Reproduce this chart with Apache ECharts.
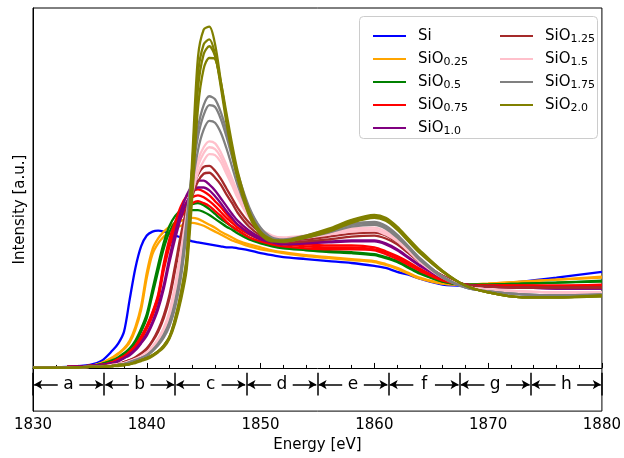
<!DOCTYPE html>
<html>
<head>
<meta charset="utf-8">
<script src="https://cdn.jsdelivr.net/npm/echarts@6/dist/echarts.min.js"></script>
<style>
html, body { margin: 0; padding: 0; background: #fff; }
#chart { width: 624px; height: 458px; }
</style>
</head>
<body>
<div id="chart"></div>
<script>
// energy grid [eV], shared by all spectra
var energy = [1830,1833,1835,1836,1837,1837.5,1838,1838.5,1839,1839.5,1840,1840.5,1841,1841.5,1842,1842.5,1843,1843.5,1844,1844.5,1845,1845.5,1846,1846.5,1847,1847.5,1848,1849,1850,1851,1852,1854,1856,1858,1860,1861,1862,1863,1864,1866,1868,1870,1873,1876,1880];

// intensity (a.u.), several runs per sample
var si = [
  [0,1,3,7,18,25,37,70,102,124,135,139,140,139,137,135,133,131,129,128,127,126,125,124,123,123,122,120,117,115,113,111,109,107,104,102,98,95,91,85,84,85,88,92,98]
];
var sio025 = [
  [0,1,2,5,11,15,20,28,42,63,97,121,132,139,144,148,150,152,153,152,149,146,143,139,136,133,130,126,123,120,118,115,113,111,109,106,102,97,92,86,85,86,88,90,93],
  [0,1,2,5,10,14,19,26,39,59,92,116,127,134,139,143,145,147,148,147,145,142,139,136,133,130,128,124,121,119,117,114,112,110,108,105,101,96,91,86,85,86,88,90,92]
];
var sio05 = [
  [0,1,2,4,8,11,15,20,28,40,55,80,105,128,145,155,161,165,167,168,166,162,157,152,148,144,140,133,128,125,123,121,119,118,116,113,109,103,97,88,85,85,86,87,89],
  [0,1,2,4,7,10,14,19,26,37,51,75,99,122,139,149,155,159,161,161,159,156,152,148,144,141,137,131,127,124,122,120,118,117,115,112,108,102,96,88,85,85,86,87,88]
];
var sio075 = [
  [0,1,2,3,6,9,12,17,23,32,43,57,75,107,132,149,165,175,180,182,180,176,170,164,157,151,146,138,133,130,128,126,125,125,123,119,114,108,101,90,85,84,84,84,85],
  [0,1,2,3,6,9,12,16,22,31,42,56,73,104,128,144,159,169,174,176,174,170,165,159,153,148,143,136,131,128,126,124,123,123,121,118,113,107,100,90,85,84,84,84,84],
  [0,1,2,3,5,8,11,15,21,29,40,53,70,100,124,139,153,163,168,170,168,165,160,155,149,144,140,133,129,126,124,122,121,121,120,116,111,105,99,89,85,84,84,83,83]
];
var sio10 = [
  [0,1,2,3,5,7,10,14,19,26,35,47,63,85,113,138,160,176,186,191,191,187,181,173,165,157,150,140,133,129,127,128,129,130,130,127,121,113,105,92,85,83,82,81,81],
  [0,1,2,3,5,7,10,13,18,25,33,45,60,81,108,132,153,169,179,184,184,181,175,168,160,153,146,137,131,128,126,127,128,129,129,126,120,112,104,92,85,83,82,81,81]
];
var sio125 = [
  [0,0,1,2,3,4,6,8,11,15,20,28,39,54,75,105,136,162,183,197,205,206,201,193,183,173,163,148,138,132,130,131,134,137,138,135,128,119,109,94,85,83,82,82,82],
  [0,0,1,2,3,4,6,8,10,14,19,27,37,51,71,100,130,155,175,190,198,199,194,187,177,168,158,144,135,130,128,129,131,134,135,132,126,117,108,94,85,83,82,82,82]
];
var sio15 = [
  [0,0,1,1,3,4,5,7,9,12,16,22,30,41,58,85,120,157,190,212,225,231,229,220,207,193,179,157,142,135,133,135,138,142,143,139,131,121,110,93,83,80,78,77,77],
  [0,0,1,1,3,4,5,7,9,12,16,21,29,40,56,82,116,152,184,206,219,225,223,215,202,189,176,155,140,134,132,134,137,140,141,137,130,120,109,93,83,80,78,77,77],
  [0,0,1,1,2,3,4,6,8,11,15,20,28,38,54,79,112,147,178,199,211,218,217,210,198,186,173,153,139,133,131,133,136,139,140,136,129,119,108,92,83,80,78,77,76]
];
var sio175 = [
  [0,0,1,1,2,3,4,6,8,10,13,18,25,34,47,68,100,150,205,245,268,277,274,261,242,220,198,164,143,133,131,135,141,147,149,145,136,124,112,93,82,78,75,74,75],
  [0,0,1,1,2,3,4,6,8,10,13,18,24,33,46,66,97,145,198,236,258,268,266,254,236,215,194,162,142,132,130,134,140,146,148,144,135,123,111,93,82,78,75,74,75],
  [0,0,1,1,2,3,4,5,7,9,12,17,23,31,43,62,92,137,186,222,243,252,250,240,224,205,186,157,139,131,129,133,138,144,146,142,133,122,110,92,82,78,75,74,74]
];
var sio20 = [
  [0,0,1,1,2,3,3,4,6,8,10,13,17,23,32,51,77,113,215,317,345,348,330,293,255,222,195,157,137,130,130,135,142,151,156,153,144,132,120,99,84,77,72,72,74],
  [0,0,1,1,2,3,3,4,6,8,10,13,17,23,32,50,75,110,205,300,330,335,320,287,250,218,192,155,136,129,129,134,141,150,155,152,143,131,119,99,84,77,72,72,74],
  [0,0,1,1,2,3,3,4,6,8,10,13,17,22,31,48,72,105,190,285,320,328,318,290,255,223,196,158,138,130,129,133,140,149,154,151,142,130,118,98,84,77,72,72,73],
  [0,0,1,1,2,2,3,4,5,7,9,12,16,21,30,46,69,100,175,265,305,316,315,292,260,228,200,160,139,131,129,133,139,148,153,150,141,129,117,98,84,77,72,72,73]
];

var sampleNames = ['Si','SiO0.25','SiO0.5','SiO0.75','SiO1.0','SiO1.25','SiO1.5','SiO1.75','SiO2.0'];
var sampleColors = ['#0000ff','#ffa500','#008000','#ff0000','#800080','#a52a2a','#ffc0cb','#808080','#808000'];
var sampleRuns = [si, sio025, sio05, sio075, sio10, sio125, sio15, sio175, sio20];

// energy regions marked under the spectra
var regionEdges = [1830, 1836.25, 1842.5, 1848.75, 1855, 1861.25, 1867.5, 1873.75, 1880];
var regionLabels = ['a','b','c','d','e','f','g','h'];
var regionY = -17, barTop = -5, barBottom = -28, labelHalfGap = 0.95;

var font = 'DejaVu Sans';
var chart = echarts.init(document.getElementById('chart'));

var series = [];
for (var i = 0; i < sampleRuns.length; i++) {
  for (var r = 0; r < sampleRuns[i].length; r++) {
    var run = sampleRuns[i][r];
    series.push({
      name: sampleNames[i],
      type: 'line',
      data: energy.map(function (e, k) { return [e, run[k]]; }),
      symbol: 'none',
      smooth: 0.3,
      silent: true,
      lineStyle: { color: sampleColors[i], width: 2.3 },
      itemStyle: { color: sampleColors[i] }
    });
  }
}

var arrowLines = [];
for (var j = 0; j < regionLabels.length; j++) {
  var a = regionEdges[j], b = regionEdges[j + 1], m = (a + b) / 2;
  arrowLines.push([{ coord: [m - labelHalfGap, regionY], symbol: 'none' }, { coord: [a + 0.1, regionY], symbol: 'arrow', symbolSize: [7, 8] }]);
  arrowLines.push([{ coord: [m + labelHalfGap, regionY], symbol: 'none' }, { coord: [b - 0.1, regionY], symbol: 'arrow', symbolSize: [7, 8] }]);
}
regionEdges.forEach(function (e) {
  arrowLines.push([{ coord: [e, barTop], symbol: 'none' }, { coord: [e, barBottom], symbol: 'none' }]);
});

series.push({
  type: 'scatter',
  silent: true,
  symbolSize: 0,
  itemStyle: { opacity: 1, color: '#000' },
  data: regionLabels.map(function (l, k) { return [(regionEdges[k] + regionEdges[k + 1]) / 2, regionY]; }),
  label: {
    show: true,
    position: 'inside',
    formatter: function (p) { return regionLabels[p.dataIndex]; },
    fontSize: 17,
    fontFamily: font,
    color: '#000',
    opacity: 1,
    textBorderWidth: 0
  },
  markLine: {
    silent: true,
    animation: false,
    symbol: 'none',
    label: { show: false },
    lineStyle: { color: '#000', width: 1.5, type: 'solid', opacity: 1 },
    data: arrowLines
  }
});

var legendText = {
  fontSize: 15,
  fontFamily: font,
  color: '#000',
  lineHeight: 18,
  padding: [0, 0, 0, 7],
  rich: { s: { fontSize: 11, fontFamily: font, color: '#000', lineHeight: 11, verticalAlign: 'bottom' } }
};
function legendFormat(name) {
  return name.indexOf('SiO') === 0 ? 'SiO{s|' + name.slice(3) + '}' : name;
}

var option = {
  animation: false,
  backgroundColor: '#fff',
  grid: { left: 33, right: 21, top: 8, bottom: 39, show: true, borderColor: '#000', borderWidth: 1 },
  graphic: [{
    type: 'rect', left: 359, top: 16, z: 3,
    shape: { width: 238, height: 122, r: 4 },
    style: { fill: 'rgba(255,255,255,0.8)', stroke: '#cccccc', lineWidth: 1 }
  }],
  legend: [
    { data: sampleNames.slice(0, 5), orient: 'vertical', left: 368, top: 22, itemGap: 5, itemWidth: 33, itemHeight: 2,
      icon: 'rect', formatter: legendFormat, textStyle: legendText, selectedMode: false, z: 5 },
    { data: sampleNames.slice(5), orient: 'vertical', left: 495, top: 22, itemGap: 5, itemWidth: 33, itemHeight: 2,
      icon: 'rect', formatter: legendFormat, textStyle: legendText, selectedMode: false, z: 5 }
  ],
  xAxis: {
    type: 'value', min: 1830, max: 1880, interval: 10,
    name: 'Energy [eV]', nameLocation: 'middle', nameGap: 23,
    nameTextStyle: { fontSize: 15, fontFamily: font, color: '#000' },
    axisLine: { lineStyle: { color: '#000' } },
    axisTick: { inside: true, length: 5, lineStyle: { color: '#000' } },
    minorTick: { show: true, splitNumber: 5, length: 3, lineStyle: { color: '#000' } },
    axisLabel: { fontSize: 15, fontFamily: font, color: '#000', margin: 7, formatter: function (v) { return String(v); } },
    splitLine: { show: false }
  },
  yAxis: {
    type: 'value', min: -44, max: 367,
    name: 'Intensity [a.u.]', nameLocation: 'middle', nameGap: 5,
    nameTextStyle: { fontSize: 15, fontFamily: font, color: '#000' },
    axisLine: { show: true, lineStyle: { color: '#000' } },
    axisTick: { show: false },
    axisLabel: { show: false },
    splitLine: { show: false }
  },
  series: series
};
chart.setOption(option);
</script>
</body>
</html>
